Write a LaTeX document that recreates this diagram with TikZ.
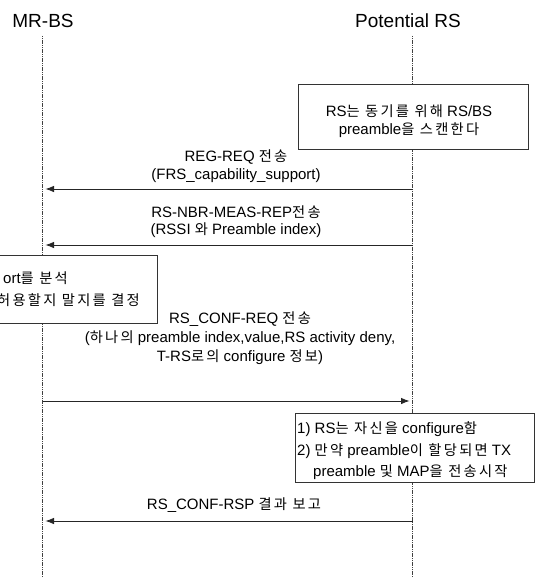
\documentclass[tikz,border=0pt]{standalone}
\usepackage{fontspec}
\setmainfont{Liberation Sans}
\newfontfamily\krfont{Noto Sans CJK KR}[Scale=0.95, LetterSpace=16]
\newcommand{\hk}[1]{{\krfont #1}}
\usetikzlibrary{arrows.meta}
\begin{document}
\begin{tikzpicture}[x=1pt,y=-1pt,
  lifeline/.style={draw=black!75, line width=1pt, dash pattern=on 1.2pt off 0.6pt},
  msg/.style={draw=black!85, line width=0.8pt, -{Latex[length=8.5pt,width=6.5pt]}, shorten >=3pt},
  lbl/.style={font=\fontsize{15}{17.5}\selectfont, align=center, inner sep=0pt},
  titletext/.style={font=\fontsize{19}{22}\selectfont, inner sep=0pt},
  actbox/.style={draw=black!80, line width=0.8pt, fill=white},
]
\useasboundingbox[fill=white] (0,0) rectangle (538,578);

% titles
\node[titletext] (bs) at (43,20.5) {MR-BS};
\node[titletext] (rs) at (408,20.5) {Potential RS};

% lifelines
\coordinate (bsTop) at (42.5,36);
\coordinate (bsBot) at (42.5,578);
\coordinate (rsTop) at (412.5,36);
\coordinate (rsBot) at (412.5,578);
\draw[lifeline] (bsTop) -- (bsBot);
\draw[lifeline] (rsTop) -- (rsBot);

% scan box
\node[actbox, minimum width=230pt, minimum height=65pt, inner sep=0pt] (scan) at (413,116.5) {};
\node[lbl] (scantext) at (409,121) {RS\hk{는 동기를 위해} RS/BS\\preamble\hk{을 스캔한다}};

% message 1
\coordinate (m1r) at (412.5,189);
\coordinate (m1l) at (42.5,189);
\draw[msg] (m1r) -- (m1l);
\node[lbl] (l1) at (236,166) {REG-REQ \hk{전송}\\(FRS\_capability\_support)};

% message 2
\coordinate (m2r) at (412.5,245);
\coordinate (m2l) at (42.5,245);
\draw[msg] (m2r) -- (m2l);
\node[lbl] (l2) at (236,221.5) {RS-NBR-MEAS-REP\hk{전송}\\(RSSI \hk{와} Preamble index)};

% analysis box (cut at the left edge)
\node[actbox, minimum width=200pt, minimum height=68pt, inner sep=0pt] (anal) at (57,289) {};
\node[lbl, anchor=east] (lb1) at (68,278) {ort\hk{를 분석}};
\node[lbl, anchor=east] (lb2) at (140,300) {\hk{허용할지 말지를 결정}};

% message 3
\coordinate (m3l) at (42.5,401);
\coordinate (m3r) at (412.5,401);
\draw[msg] (m3l) -- (m3r);
\node[lbl, font=\fontsize{15}{19}\selectfont] (l3) at (240,338)
  {RS\_CONF-REQ \hk{전송}\\(\hk{하나의} preamble index,value,RS activity deny,\\T-RS\hk{로의} configure \hk{정보})};

% configure box
\node[actbox, minimum width=239pt, minimum height=69pt, inner sep=0pt] (conf) at (414.5,447.5) {};
\node[font=\fontsize{15}{21.5}\selectfont, align=left, inner sep=0pt, anchor=west] (conft) at (297,451)
  {1) RS\hk{는 자신을} configure\hk{함}\\
   2) \hk{만약} preamble\hk{이 할당되면} TX\\
   \hspace*{16pt}preamble \hk{및} MAP\hk{을 전송시작}};

% message 4
\coordinate (m4r) at (412.5,521);
\coordinate (m4l) at (42.5,521);
\draw[msg] (m4r) -- (m4l);
\node[lbl] (l4) at (234,505) {RS\_CONF-RSP \hk{결과 보고}};
\end{tikzpicture}
\end{document}
